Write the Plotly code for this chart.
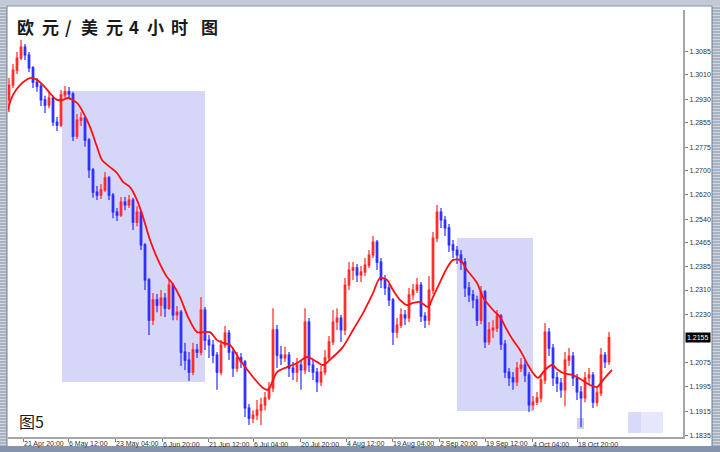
import plotly.graph_objects as go

# ---------------- data (EUR/USD 4H) ----------------
first_open = 1.2929
closes = [
    1.2977, 1.3026, 1.3065, 1.3101, 1.3075, 1.3033, 1.2987, 1.2974, 1.2929, 1.2912,
    1.2935, 1.2857, 1.2847, 1.2945, 1.2955, 1.2948, 1.2811, 1.2863, 1.2870, 1.2798,
    1.2701, 1.2629, 1.2619, 1.2636, 1.2675, 1.2619, 1.2564, 1.2554, 1.2596, 1.2587,
    1.2603, 1.2531, 1.2564, 1.2457, 1.2343, 1.2212, 1.2278, 1.2261, 1.2284, 1.2251,
    1.2326, 1.2229, 1.2238, 1.2108, 1.2082, 1.2043, 1.2115, 1.2108, 1.2245, 1.2147,
    1.2131, 1.2098, 1.2043, 1.2131, 1.2170, 1.2108, 1.2056, 1.2089, 1.2076, 1.1926,
    1.1893, 1.1903, 1.1919, 1.1936, 1.1959, 1.1991, 1.2180, 1.2098, 1.2089, 1.2098,
    1.2056, 1.2043, 1.2066, 1.2050, 1.2206, 1.2066, 1.2043, 1.2011, 1.2043, 1.2089,
    1.2141, 1.2206, 1.2219, 1.2180, 1.2326, 1.2375, 1.2382, 1.2359, 1.2369, 1.2391,
    1.2424, 1.2466, 1.2401, 1.2343, 1.2317, 1.2278, 1.2173, 1.2196, 1.2229, 1.2219,
    1.2294, 1.2310, 1.2326, 1.2225, 1.2212, 1.2310, 1.2479, 1.2564, 1.2538, 1.2512,
    1.2457, 1.2440, 1.2424, 1.2401, 1.2317, 1.2294, 1.2278, 1.2212, 1.2304, 1.2141,
    1.2180, 1.2186, 1.2225, 1.2134, 1.2043, 1.2024, 1.2011, 1.2056, 1.2066, 1.2033,
    1.1936, 1.1945, 1.1959, 1.2017, 1.2173, 1.2121, 1.2024, 1.2007, 1.1985, 1.2082,
    1.2095, 1.2024, 1.1978, 1.1959, 1.2024, 1.2033, 1.1945, 1.1975, 1.2098, 1.2076,
    1.2155,
]
highs = [
    1.3000, 1.3046, 1.3085, 1.3124, 1.3111, 1.3085, 1.3039, 1.3000, 1.2981, 1.2942,
    1.2955, 1.2942, 1.2873, 1.2961, 1.2974, 1.2971, 1.2955, 1.2883, 1.2889, 1.2876,
    1.2805, 1.2707, 1.2649, 1.2655, 1.2694, 1.2681, 1.2626, 1.2577, 1.2613, 1.2613,
    1.2619, 1.2610, 1.2583, 1.2570, 1.2463, 1.2349, 1.2300, 1.2297, 1.2310, 1.2300,
    1.2343, 1.2333, 1.2258, 1.2245, 1.2138, 1.2108, 1.2138, 1.2134, 1.2287, 1.2255,
    1.2164, 1.2147, 1.2108, 1.2147, 1.2193, 1.2180, 1.2121, 1.2108, 1.2105, 1.2082,
    1.1939, 1.1919, 1.1952, 1.1959, 1.1978, 1.2011, 1.2251, 1.2196, 1.2128, 1.2125,
    1.2108, 1.2076, 1.2089, 1.2082, 1.2251, 1.2219, 1.2082, 1.2056, 1.2063, 1.2115,
    1.2160, 1.2245, 1.2251, 1.2229, 1.2349, 1.2401, 1.2401, 1.2395, 1.2388, 1.2414,
    1.2440, 1.2486, 1.2473, 1.2414, 1.2359, 1.2330, 1.2284, 1.2219, 1.2251, 1.2245,
    1.2317, 1.2330, 1.2349, 1.2336, 1.2238, 1.2356, 1.2499, 1.2587, 1.2577, 1.2551,
    1.2525, 1.2473, 1.2453, 1.2440, 1.2414, 1.2336, 1.2310, 1.2291, 1.2323, 1.2310,
    1.2206, 1.2212, 1.2245, 1.2232, 1.2147, 1.2056, 1.2043, 1.2076, 1.2089, 1.2082,
    1.2043, 1.1965, 1.1978, 1.2030, 1.2203, 1.2186, 1.2134, 1.2043, 1.2024, 1.2108,
    1.2121, 1.2108, 1.2037, 1.1998, 1.2043, 1.2056, 1.2043, 1.1991, 1.2121, 1.2108,
    1.2173,
]
lows = [
    1.2889, 1.2968, 1.3013, 1.3059, 1.3059, 1.3020, 1.2968, 1.2955, 1.2909, 1.2886,
    1.2902, 1.2844, 1.2828, 1.2841, 1.2935, 1.2932, 1.2795, 1.2802, 1.2844, 1.2776,
    1.2675, 1.2610, 1.2603, 1.2606, 1.2629, 1.2603, 1.2544, 1.2535, 1.2548, 1.2570,
    1.2577, 1.2505, 1.2518, 1.2440, 1.2310, 1.2164, 1.2196, 1.2238, 1.2225, 1.2222,
    1.2245, 1.2212, 1.2212, 1.2063, 1.2050, 1.2014, 1.2033, 1.2089, 1.2098, 1.2115,
    1.2089, 1.2072, 1.1985, 1.2033, 1.2121, 1.2082, 1.2027, 1.2043, 1.2056, 1.1897,
    1.1871, 1.1877, 1.1887, 1.1871, 1.1919, 1.1952, 1.1978, 1.2056, 1.2066, 1.2076,
    1.2027, 1.2017, 1.2011, 1.1985, 1.2037, 1.2043, 1.2017, 1.1978, 1.1998, 1.2033,
    1.2082, 1.2131, 1.2180, 1.2141, 1.2164, 1.2310, 1.2343, 1.2336, 1.2336, 1.2356,
    1.2382, 1.2414, 1.2375, 1.2317, 1.2294, 1.2258, 1.2131, 1.2154, 1.2186, 1.2196,
    1.2206, 1.2278, 1.2300, 1.2206, 1.2186, 1.2196, 1.2297, 1.2466, 1.2512, 1.2486,
    1.2434, 1.2414, 1.2395, 1.2375, 1.2287, 1.2271, 1.2251, 1.2193, 1.2199, 1.2121,
    1.2131, 1.2154, 1.2173, 1.2115, 1.2024, 1.1998, 1.1985, 1.1998, 1.2043, 1.2011,
    1.1913, 1.1919, 1.1936, 1.1945, 1.2004, 1.2095, 1.1998, 1.1978, 1.1959, 1.1932,
    1.2063, 1.1998, 1.1952, 1.1864, 1.1945, 1.2004, 1.1926, 1.1932, 1.1965, 1.2056,
    1.2066,
]
opens = [first_open] + closes[:-1]

# moving average (bar position, value)
ma_x = [-0.5, 1.0, 2.75, 5.25, 7.0, 8.5, 10.25, 12.0, 13.5, 14.75, 17.0, 18.5, 20.25,
        22.0, 23.25, 25.25, 27.0, 28.5, 30.25, 32.0, 33.5, 35.25, 37.25, 39.5, 40.75,
        42.75, 44.75, 47.0, 48.5, 50.25, 52.0, 53.5, 55.25, 57.75, 61.0, 63.5, 64.75,
        67.0, 69.5, 72.0, 74.5, 77.0, 78.5, 81.0, 83.5, 86.0, 88.5, 91.0, 92.75, 94.5,
        96.0, 97.75, 99.5, 101.0, 102.75, 104.75, 106.0, 107.75, 109.5, 111.0, 112.75,
        114.5, 117.0, 118.5, 121.0, 122.75, 124.5, 126.0, 127.75, 129.5, 131.0, 132.25,
        134.0, 135.75, 137.25, 138.5, 141.0, 143.25, 145.25, 147.0, 148.5, 150.75]
ma_y = [1.2889, 1.2945, 1.2977, 1.3000, 1.2994, 1.2977, 1.2951, 1.2929, 1.2929, 1.2935,
        1.2919, 1.2889, 1.2841, 1.2776, 1.2733, 1.2710, 1.2691, 1.2662, 1.2645, 1.2603,
        1.2548, 1.2473, 1.2408, 1.2352, 1.2333, 1.2287, 1.2222, 1.2173, 1.2173, 1.2173,
        1.2147, 1.2138, 1.2131, 1.2082, 1.2027, 1.1991, 1.1985, 1.2043, 1.2059, 1.2072,
        1.2092, 1.2076, 1.2066, 1.2092, 1.2125, 1.2180, 1.2235, 1.2300, 1.2349, 1.2343,
        1.2310, 1.2278, 1.2261, 1.2268, 1.2271, 1.2255, 1.2287, 1.2336, 1.2382, 1.2408,
        1.2408, 1.2375, 1.2333, 1.2287, 1.2245, 1.2222, 1.2180, 1.2147, 1.2115, 1.2072,
        1.2040, 1.2024, 1.2050, 1.2066, 1.2050, 1.2040, 1.2033, 1.2017, 1.2001, 1.1994,
        1.2017, 1.2050]

price_ticks = [1.3085, 1.3010, 1.2930, 1.2855, 1.2775, 1.2700, 1.2620, 1.2540, 1.2465,
               1.2385, 1.2310, 1.2230, 1.2075, 1.1995, 1.1915, 1.1835]
time_labels = ["21 Apr 20:00", "6 May 12:00", "23 May 04:00", "6 Jun 20:00",
               "21 Jun 12:00", "6 Jul 04:00", "20 Jul 20:00", "4 Aug 12:00",
               "19 Aug 04:00", "2 Sep 20:00", "19 Sep 12:00", "4 Oct 04:00",
               "18 Oct 20:00"]
time_pos = [3.5, 14.75, 26.5, 38.25, 49.75, 61.0, 72.75, 84.25, 95.75, 107.5,
            119.0, 130.75, 142.0]

# highlighted zones (bar range, price range)
zones = [((13.25, 49.0), (1.2011, 1.2958)), ((112.0, 131.0), (1.1916, 1.2479))]

title_chars = ["欧", "元", "/", "美", "元", "4", "小", "时", "图"]
title_cx = [25.5, 50.5, 68.5, 89.5, 114.5, 134, 155, 179.5, 209.5]

# ---------------- figure ----------------
W, H = 720, 452
def pxx(x): return x / W
def pyy(y): return 1 - y / H

fig = go.Figure()
fig.add_trace(go.Candlestick(
    x=list(range(len(closes))), open=opens, high=highs, low=lows, close=closes,
    increasing=dict(line=dict(color="#ff2626", width=1.2), fillcolor="#ff2626"),
    decreasing=dict(line=dict(color="#2b2bff", width=1.2), fillcolor="#2b2bff"),
    whiskerwidth=0, hoverinfo="skip", showlegend=False))
fig.add_trace(go.Scatter(x=ma_x, y=ma_y, mode="lines",
                         line=dict(color="#ff1010", width=1.8, shape="spline", smoothing=0.8),
                         hoverinfo="skip", showlegend=False))

shapes = []
for (x0, x1), (y0, y1) in zones:
    shapes.append(dict(type="rect", xref="x", yref="y", x0=x0, x1=x1, y0=y0, y1=y1,
                       fillcolor="#d6d6f8", line=dict(width=0), layer="below"))
# faint watermark blocks
shapes.append(dict(type="rect", xref="paper", yref="paper", x0=pxx(628), x1=pxx(641),
                   y0=pyy(433), y1=pyy(412), fillcolor="#d9d9fa", line=dict(width=0), layer="below"))
shapes.append(dict(type="rect", xref="paper", yref="paper", x0=pxx(641), x1=pxx(663),
                   y0=pyy(433), y1=pyy(412), fillcolor="#e6e6fc", line=dict(width=0), layer="below"))
shapes.append(dict(type="rect", xref="paper", yref="paper", x0=pxx(577), x1=pxx(584),
                   y0=pyy(429), y1=pyy(418), fillcolor="#cfcff6", line=dict(width=0), layer="below"))

# window frame
shapes.append(dict(type="rect", xref="paper", yref="paper", x0=0, x1=pxx(7), y0=0, y1=1,
                   fillcolor="#cfd4dd", line=dict(width=0)))
shapes.append(dict(type="rect", xref="paper", yref="paper", x0=pxx(712), x1=1, y0=0, y1=1,
                   fillcolor="#cfd4dd", line=dict(width=0)))
for yy in range(2, 452, 3):
    for xa, xb in ((0, 7), (712, 720)):
        shapes.append(dict(type="line", xref="paper", yref="paper", x0=pxx(xa), x1=pxx(xb),
                           y0=pyy(yy), y1=pyy(yy), line=dict(color="#8391a8", width=1)))
shapes.append(dict(type="rect", xref="paper", yref="paper", x0=0, x1=1, y0=pyy(6), y1=1,
                   fillcolor="#c3cad6", line=dict(width=0)))
shapes.append(dict(type="line", xref="paper", yref="paper", x0=pxx(7), x1=pxx(712),
                   y0=pyy(6), y1=pyy(6), line=dict(color="#8a96ab", width=1)))
shapes.append(dict(type="rect", xref="paper", yref="paper", x0=0, x1=1, y0=0, y1=pyy(446),
                   fillcolor="#8593ad", line=dict(width=0)))
shapes.append(dict(type="line", xref="paper", yref="paper", x0=pxx(7), x1=pxx(7),
                   y0=pyy(446), y1=pyy(6), line=dict(color="#6f7d97", width=1)))
shapes.append(dict(type="line", xref="paper", yref="paper", x0=pxx(712), x1=pxx(712),
                   y0=pyy(446), y1=pyy(6), line=dict(color="#6f7d97", width=1)))

annotations = []
for ch, cx in zip(title_chars, title_cx):
    annotations.append(dict(text=f"<b>{ch}</b>", xref="paper", yref="paper", x=pxx(cx),
                            y=pyy(26.5), xanchor="center", yanchor="middle", showarrow=False,
                            font=dict(family="Noto Sans CJK SC", size=17, color="#1a1a1a")))
annotations.append(dict(text="图5", xref="paper", yref="paper", x=pxx(17), y=pyy(421),
                        xanchor="left", yanchor="middle", showarrow=False,
                        font=dict(family="Noto Sans CJK SC", size=16, color="#1a1a1a")))
for lab, pos in zip(time_labels, time_pos):
    annotations.append(dict(text=lab, xref="x", yref="paper", x=pos, y=pyy(444),
                            xanchor="left", yanchor="middle", showarrow=False, xshift=-1,
                            font=dict(family="Liberation Sans", size=7, color="#333333")))
annotations.append(dict(text=f"{closes[-1]:.4f}", xref="paper", yref="y", x=pxx(685),
                        y=closes[-1], xanchor="left", yanchor="middle", showarrow=False,
                        bgcolor="#000000", borderpad=1,
                        font=dict(family="Liberation Sans", size=7, color="#ffffff")))

fig.update_layout(
    width=W, height=H, margin=dict(l=0, r=0, t=0, b=0),
    paper_bgcolor="#ffffff", plot_bgcolor="#ffffff", showlegend=False,
    shapes=shapes, annotations=annotations, boxgap=0.45,
    xaxis=dict(domain=[pxx(8), pxx(683)], range=[-0.25, 168.5], showgrid=False,
               zeroline=False, showline=True, linecolor="#a6a6a6", linewidth=2,
               ticks="outside", ticklen=3, tickcolor="#808080", tickvals=time_pos,
               showticklabels=False, rangeslider=dict(visible=False), fixedrange=True),
    yaxis=dict(domain=[pyy(437), pyy(10)], range=[1.18316, 1.32215], side="right",
               showgrid=False, zeroline=False, showline=True, linecolor="#a6a6a6",
               linewidth=2, ticks="outside", ticklen=3, tickcolor="#808080",
               tickvals=price_ticks, ticktext=[f"{v:.4f}" for v in price_ticks],
               tickfont=dict(family="Liberation Sans", size=7, color="#333333"),
               automargin=False, fixedrange=True),
)

fig.write_html("out.html", config={"displayModeBar": False},
               post_script="document.body.style.margin='0px';document.body.style.padding='0px';")
